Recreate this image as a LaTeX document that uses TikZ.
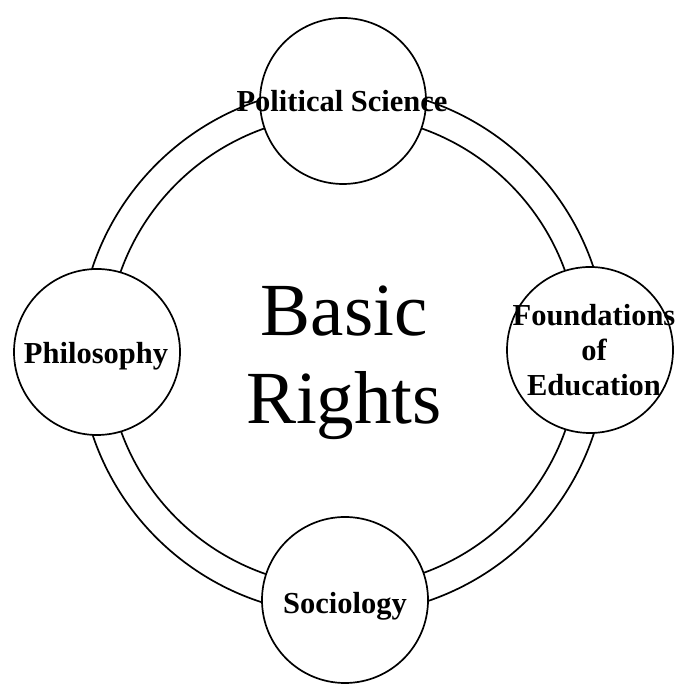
\documentclass[tikz,border=0pt]{standalone}
\usepackage{fontspec}
\setmainfont{Liberation Serif}
\usepackage{tikz}

\begin{document}
\begin{tikzpicture}[x=1pt,y=1pt,
    ring/.style={line width=1.7pt},
    topic/.style={font=\fontsize{30.5}{35}\selectfont\bfseries, align=center, inner sep=0pt},
    title/.style={font=\fontsize{75}{88}\selectfont, align=center, inner sep=0pt}]
      \useasboundingbox (0,0) rectangle (675,684);

      \coordinate (O) at (343,333);
      \coordinate (T) at (343,583);
      \coordinate (B) at (345,84);
      \coordinate (L) at (97,332);
      \coordinate (R) at (590,334);

      % ANNEAU
      \draw[ring] (O) circle (264);
      \draw[ring] (O) circle (236);

      % CERCLES
      \filldraw[ring, fill=white] (T) circle (83);
      \filldraw[ring, fill=white] (R) circle (83);
      \filldraw[ring, fill=white] (B) circle (83);
      \filldraw[ring, fill=white] (L) circle (83);

      % TEXTES
      \node[title] (basic) at (344,321) {Basic\\Rights};
      \node[topic] (polsci) at (342,583) {Political Science};
      \node[topic] (found) at (594,334) {Foundations\\of\\Education};
      \node[topic] (socio) at (345,78) {Sociology};
      \node[topic] (philo) at (96,328) {Philosophy};
\end{tikzpicture}
\end{document}
